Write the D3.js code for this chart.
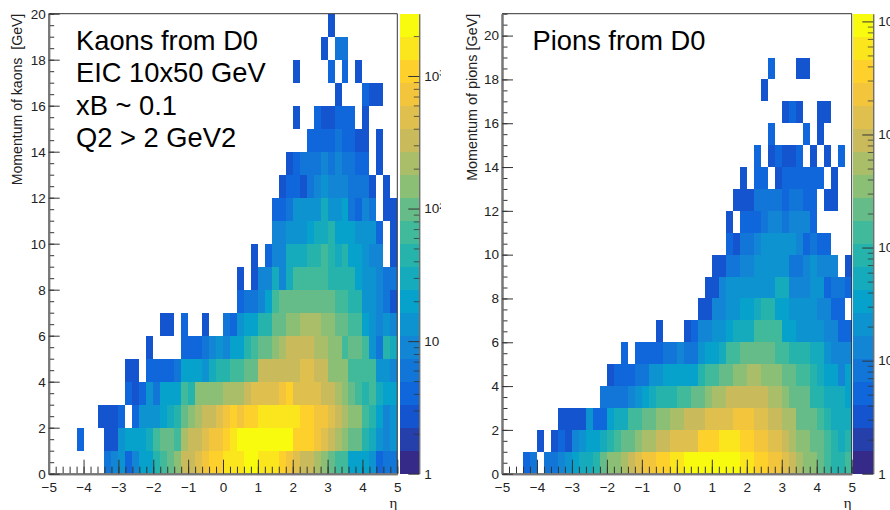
<!DOCTYPE html>
<html>
<head>
<meta charset="utf-8">
<script src="https://cdnjs.cloudflare.com/ajax/libs/d3/7.8.5/d3.min.js"></script>
<style>
  html, body { margin: 0; padding: 0; background: #fff; overflow: hidden; }
  text { font-family: "Liberation Sans", Arial, sans-serif; fill: #222; }
</style>
</head>
<body>
<div class="container"></div>
<script>
// counts per bin. one row = 1 GeV, one column = 0.2 in eta
var kaonCounts = [
  [0,0,0,0,0,0,0,0,6,9, 13,4,9,20,20,44,65,97,145,320, 320,470,700,1040,1040,1550,1550,1550,2300,2300, 1550,1550,1550,1040,700,470,320,320,215,145, 97,65,65,20,20,20,13,4,6,6],
  [0,0,0,0,4,0,0,0,3,3, 13,20,20,20,29,65,97,97,65,215, 320,320,470,700,700,1040,1550,2300,2300,2300, 2300,2300,2300,2300,2300,1040,1040,1040,700,470, 320,215,145,97,97,44,29,13,9,13],
  [0,0,0,0,0,0,0,3,3,3, 4,0,4,13,13,13,20,29,44,97, 145,215,320,320,470,700,1040,700,1040,1040, 1550,1550,1550,1550,1550,1550,1040,1040,700,700, 470,320,215,145,145,65,44,20,9,13],
  [0,0,0,0,0,0,0,0,0,0, 0,4,3,4,13,6,20,20,20,65, 44,145,145,145,145,215,215,215,320,470, 470,470,470,700,1040,470,470,470,470,320, 320,215,145,97,65,44,65,29,20,20],
  [0,0,0,0,0,0,0,0,0,0, 0,3,3,0,4,4,4,4,6,20, 20,20,13,29,44,44,65,65,97,97, 320,320,320,320,320,320,470,470,320,320, 145,145,145,65,65,65,65,13,13,9],
  [0,0,0,0,0,0,0,0,0,0, 0,0,0,0,3,0,0,0,0,4, 4,4,6,9,13,9,20,20,44,65, 97,97,145,215,320,320,320,320,215,215, 145,145,65,97,97,65,13,6,44,29],
  [0,0,0,0,0,0,0,0,0,0, 0,0,0,0,0,0,3,3,0,4, 0,0,3,0,0,6,4,13,20,20, 44,44,97,97,145,145,215,215,215,145, 145,97,97,65,65,20,13,9,13,9],
  [0,0,0,0,0,0,0,0,0,0, 0,0,0,0,0,0,0,0,0,0, 0,0,0,0,0,0,0,4,6,6, 9,20,65,97,97,97,97,97,97,97, 97,65,65,44,44,13,13,9,6,3],
  [0,0,0,0,0,0,0,0,0,0, 0,0,0,0,0,0,0,0,0,0, 0,0,0,0,0,0,0,3,0,3, 9,9,29,9,29,65,65,65,65,65, 54,54,54,44,20,13,13,9,6,6],
  [0,0,0,0,0,0,0,0,0,0, 0,0,0,0,0,0,0,0,0,0, 0,0,0,0,0,0,0,0,0,3, 0,4,9,9,29,29,29,44,44,65, 44,29,44,20,20,13,9,9,0,3],
  [0,0,0,0,0,0,0,0,0,0, 0,0,0,0,0,0,0,0,0,0, 0,0,0,0,0,0,0,0,0,0, 0,0,9,9,13,13,13,20,29,29, 44,20,20,20,13,13,13,4,0,3],
  [0,0,0,0,0,0,0,0,0,0, 0,0,0,0,0,0,0,0,0,0, 0,0,0,0,0,0,0,0,0,0, 0,0,4,4,6,13,13,13,13,29, 13,13,20,6,4,9,6,0,3,3],
  [0,0,0,0,0,0,0,0,0,0, 0,0,0,0,0,0,0,0,0,0, 0,0,0,0,0,0,0,0,0,0, 0,0,0,3,4,4,3,6,9,13, 9,9,9,6,6,6,3,0,3,0],
  [0,0,0,0,0,0,0,0,0,0, 0,0,0,0,0,0,0,0,0,0, 0,0,0,0,0,0,0,0,0,0, 0,0,0,0,3,4,6,6,6,9, 6,9,6,6,4,4,0,3,0,0],
  [0,0,0,0,0,0,0,0,0,0, 0,0,0,0,0,0,0,0,0,0, 0,0,0,0,0,0,0,0,0,0, 0,0,0,0,0,0,0,4,4,4, 4,6,4,4,3,3,0,3,0,0],
  [0,0,0,0,0,0,0,0,0,0, 0,0,0,0,0,0,0,0,0,0, 0,0,0,0,0,0,0,0,0,0, 0,0,0,0,0,3,0,0,4,3, 3,4,4,4,0,3,0,0,0,0],
  [0,0,0,0,0,0,0,0,0,0, 0,0,0,0,0,0,0,0,0,0, 0,0,0,0,0,0,0,0,0,0, 0,0,0,0,0,0,0,0,0,0, 0,3,0,0,0,4,3,3,0,0],
  [0,0,0,0,0,0,0,0,0,0, 0,0,0,0,0,0,0,0,0,0, 0,0,0,0,0,0,0,0,0,0, 0,0,0,0,0,3,0,0,0,0, 4,0,4,0,3,0,0,0,0,0],
  [0,0,0,0,0,0,0,0,0,0, 0,0,0,0,0,0,0,0,0,0, 0,0,0,0,0,0,0,0,0,0, 0,0,0,0,0,0,0,0,0,3, 0,6,6,0,0,0,0,0,0,0],
  [0,0,0,0,0,0,0,0,0,0, 0,0,0,0,0,0,0,0,0,0, 0,0,0,0,0,0,0,0,0,0, 0,0,0,0,0,0,0,0,0,0, 3,0,0,0,0,0,0,0,0,0]
];

var pionCounts = [
  [0,0,0,5,8,0,8,8,13,20, 32,52,52,83,210,330,330,530,830,1300, 2100,2100,3300,3300,5300,5300,8300,8300,8300,8300, 8300,8300,8300,8300,5300,5300,3300,3300,2100,2100, 1300,830,530,330,330,210,130,83,83,130],
  [0,0,0,0,0,3,0,3,5,3, 13,20,32,32,52,83,130,210,210,330, 530,530,830,830,1300,1300,1300,1300,3300,3300, 3300,5300,5300,5300,3300,3300,2100,2100,1300,1300, 830,530,330,330,210,210,130,83,52,83],
  [0,0,0,0,0,0,0,0,3,3, 3,3,20,5,5,32,52,52,130,130, 210,210,330,330,530,530,830,830,830,1300, 1300,1300,1300,2100,2100,2100,1300,1300,830,830, 530,530,210,210,210,130,83,52,52,52],
  [0,0,0,0,0,0,0,0,0,0, 0,0,0,0,8,8,8,8,13,20, 32,52,83,83,83,130,130,210,210,330, 530,530,830,830,830,830,830,830,530,530, 330,210,210,210,83,83,52,52,52,32],
  [0,0,0,0,0,0,0,0,0,0, 0,0,0,0,0,3,5,5,5,8, 8,20,20,32,32,32,32,32,83,130, 130,210,210,330,330,530,530,330,330,330, 210,210,130,130,83,52,32,32,13,32],
  [0,0,0,0,0,0,0,0,0,0, 0,0,0,0,0,0,0,5,0,5, 5,5,5,8,8,13,8,8,20,32, 32,52,130,130,210,210,210,210,210,130, 130,83,83,83,52,52,20,13,13,13],
  [0,0,0,0,0,0,0,0,0,0, 0,0,0,0,0,0,0,0,0,0, 0,0,3,0,0,0,3,5,13,13, 20,20,32,52,52,52,130,130,130,130, 32,32,20,20,20,20,13,13,5,5],
  [0,0,0,0,0,0,0,0,0,0, 0,0,0,0,0,0,0,0,0,0, 0,0,0,0,0,0,0,0,3,3, 13,13,20,20,32,32,52,83,83,32, 32,20,20,20,20,13,13,5,5,0],
  [0,0,0,0,0,0,0,0,0,0, 0,0,0,0,0,0,0,0,0,0, 0,0,0,0,0,0,0,0,0,3, 3,13,20,20,20,20,20,20,20,52, 52,13,13,13,20,20,5,8,8,5],
  [0,0,0,0,0,0,0,0,0,0, 0,0,0,0,0,0,0,0,0,0, 0,0,0,0,0,0,0,0,0,0, 3,3,8,8,13,13,20,20,20,20, 20,8,8,13,20,13,13,13,0,3],
  [0,0,0,0,0,0,0,0,0,0, 0,0,0,0,0,0,0,0,0,0, 0,0,0,0,0,0,0,0,0,0, 0,0,5,3,8,8,13,20,20,20, 20,20,13,5,8,5,5,0,0,0],
  [0,0,0,0,0,0,0,0,0,0, 0,0,0,0,0,0,0,0,0,0, 0,0,0,0,0,0,0,0,0,0, 0,0,3,0,5,5,5,8,13,13, 8,13,13,13,5,0,0,0,0,0],
  [0,0,0,0,0,0,0,0,0,0, 0,0,0,0,0,0,0,0,0,0, 0,0,0,0,0,0,0,0,0,0, 0,0,0,3,3,3,8,8,8,8, 5,8,8,5,5,0,3,3,0,0],
  [0,0,0,0,0,0,0,0,0,0, 0,0,0,0,0,0,0,0,0,0, 0,0,0,0,0,0,0,0,0,0, 0,0,0,0,3,0,5,5,0,3, 5,5,5,5,5,5,0,3,0,0],
  [0,0,0,0,0,0,0,0,0,0, 0,0,0,0,0,0,0,0,0,0, 0,0,0,0,0,0,0,0,0,0, 0,0,0,0,0,0,5,0,3,5, 3,3,5,0,3,0,3,0,5,0],
  [0,0,0,0,0,0,0,0,0,0, 0,0,0,0,0,0,0,0,0,0, 0,0,0,0,0,0,0,0,0,0, 0,0,0,0,0,0,0,0,5,0, 0,0,0,5,0,3,0,0,0,0],
  [0,0,0,0,0,0,0,0,0,0, 0,0,0,0,0,0,0,0,0,0, 0,0,0,0,0,0,0,0,0,0, 0,0,0,0,0,0,0,0,0,0, 3,5,3,0,0,3,3,0,0,0],
  [0,0,0,0,0,0,0,0,0,0, 0,0,0,0,0,0,0,0,0,0, 0,0,0,0,0,0,0,0,0,0, 0,0,0,0,0,0,0,3,0,0, 0,0,0,0,0,0,0,0,0,0],
  [0,0,0,0,0,0,0,0,0,0, 0,0,0,0,0,0,0,0,0,0, 0,0,0,0,0,0,0,0,0,0, 0,0,0,0,0,0,0,0,5,0, 0,0,3,3,0,0,0,0,0,0]
];

var etaTicks = [-5, -4, -3, -2, -1, 0, 1, 2, 3, 4, 5];
var momentumTicks = [0, 2, 4, 6, 8, 10, 12, 14, 16, 18, 20];
var kaonNotes = ["Kaons from D0", "EIC 10x50 GeV", "xB ~ 0.1", "Q2 > 2 GeV2"];
var pionNotes = ["Pions from D0"];
// ROOT kBird stops
var birdStops = ["#352a87", "#0f5cdd", "#1481d6", "#06a4ca", "#2eb7a4", "#87bf77", "#d1bb59", "#fec832", "#f9fb0e"];

var nLevels = 20;
var bird = d3.piecewise(d3.interpolateRgb, birdStops);
var plotTop = 13.7, plotBottom = 473.7;

var svg = d3.select(".container").append("svg")
  .attr("width", 890).attr("height", 510)
  .style("display", "block");

// the left picture is cut off where the right one starts
svg.append("clipPath").attr("id", "leftClip")
  .append("rect").attr("x", 0).attr("y", 0).attr("width", 441).attr("height", 510);

var styleAxis = function(a) {
  a.select(".domain").attr("stroke", "#777").attr("stroke-width", 2);
  a.selectAll("line").attr("stroke", "#333");
  a.selectAll("text").attr("fill", "#222");
};

var drawPanel = function(p) {
  var g = svg.append("g").attr("clip-path", p.clip ? "url(#" + p.clip + ")" : null);

  var x = d3.scaleLinear().domain([-5, 5]).range([p.left, p.right]);
  var y = d3.scaleLinear().domain([0, p.yMax]).range([plotBottom, plotTop]);
  var z = d3.scaleLog().domain([1, p.zMax]).range([plotBottom, plotTop]);
  var level = d3.scaleLog().domain([1, p.zMax]).range([0, nLevels]);

  var colorOf = function(v) {
    var k = Math.min(nLevels - 1, Math.floor(level(v)));
    return bird(k / (nLevels - 1));
  };

  // cells
  p.counts.forEach(function(row, j) {
    var cells = row
      .map(function(v, i) { return {i: i, v: v}; })
      .filter(function(d) { return d.v > 0; });
    g.append("g").attr("shape-rendering", "crispEdges").selectAll("rect")
      .data(cells)
      .enter()
      .append("rect")
      .attr("x", function(d) { return x(-5 + 0.2 * d.i); })
      .attr("width", function(d) { return x(-5 + 0.2 * (d.i + 1)) - x(-5 + 0.2 * d.i); })
      .attr("y", y(j + 1))
      .attr("height", y(j) - y(j + 1))
      .attr("fill", function(d) { return colorOf(d.v); });
  });

  // colour bar
  var edges = d3.range(nLevels + 1).map(function(k) { return Math.pow(p.zMax, k / nLevels); });
  g.append("g").attr("shape-rendering", "crispEdges").selectAll("rect")
    .data(d3.range(nLevels))
    .enter()
    .append("rect")
    .attr("x", p.barLeft)
    .attr("width", p.barRight - p.barLeft)
    .attr("y", function(k) { return z(edges[k + 1]); })
    .attr("height", function(k) { return z(edges[k]) - z(edges[k + 1]); })
    .attr("fill", function(k) { return bird(k / (nLevels - 1)); });

  // frame
  g.append("path")
    .attr("d", "M" + x(-5) + "," + plotTop + "H" + x(5) + "V" + plotBottom)
    .attr("fill", "none").attr("stroke", "#333").attr("stroke-width", 1);

  // eta axis
  var etaMinor = d3.range(51).map(function(i) { return -5 + i * 0.2; });
  g.append("g").attr("transform", "translate(0," + plotBottom + ")")
    .call(d3.axisBottom(x).tickValues(etaMinor).tickSizeInner(-7).tickSizeOuter(0).tickFormat(""))
    .call(styleAxis);
  g.append("g").attr("transform", "translate(0," + plotBottom + ")")
    .call(d3.axisBottom(x).tickValues(etaTicks).tickSizeInner(-14).tickSizeOuter(0).tickFormat(d3.format("d")))
    .call(styleAxis)
    .call(function(a) { a.selectAll("text").attr("y", 9).attr("dy", "0.71em").style("font-size", "13.5px"); });

  // momentum axis
  var momentumMinor = d3.range(2 * p.yMax + 1).map(function(i) { return i * 0.5; });
  g.append("g").attr("transform", "translate(" + p.left + ",0)")
    .call(d3.axisLeft(y).tickValues(momentumMinor).tickSizeInner(-5.5).tickSizeOuter(0).tickFormat(""))
    .call(styleAxis);
  g.append("g").attr("transform", "translate(" + p.left + ",0)")
    .call(d3.axisLeft(y).tickValues(momentumTicks).tickSizeInner(-11).tickSizeOuter(0).tickFormat(d3.format("d")))
    .call(styleAxis)
    .call(function(a) { a.selectAll("text").attr("x", -3).style("font-size", "13.5px"); });

  // colour bar axis
  var decades = d3.range(0, Math.floor(Math.log10(p.zMax)) + 1).map(function(e) { return Math.pow(10, e); });
  var logMinor = [];
  decades.forEach(function(dec) {
    d3.range(2, 10).forEach(function(m) { if (dec * m <= p.zMax) logMinor.push(dec * m); });
  });
  g.append("g").attr("transform", "translate(" + p.barRight + ",0)")
    .call(d3.axisRight(z).tickValues(logMinor).tickSizeInner(-5.5).tickSizeOuter(0).tickFormat(""))
    .call(function(a) {
      a.select(".domain").attr("stroke", "#333").attr("stroke-width", 1);
      a.selectAll("line").attr("stroke", "#333").attr("stroke-opacity", 0.75);
    });
  g.append("g").attr("transform", "translate(" + p.barRight + ",0)")
    .call(d3.axisRight(z).tickValues(decades).tickSizeInner(-11).tickSizeOuter(0).tickFormat(""))
    .call(function(a) {
      a.select(".domain").remove();
      a.selectAll("line").attr("stroke", "#333");
    });
  decades.forEach(function(dec, e) {
    var t = g.append("text")
      .attr("x", p.barRight + 5)
      .attr("y", z(dec))
      .attr("dy", "0.36em")
      .style("font-size", "13.5px")
      .text(e === 0 ? "1" : "10");
    if (e > 1) {
      t.append("tspan").attr("dy", "-0.5em").style("font-size", "9px").text(e);
    }
  });

  // titles
  g.append("text")
    .attr("transform", "translate(" + p.yLabelX + "," + plotTop + ") rotate(-90)")
    .attr("text-anchor", "end")
    .style("font-size", p.yLabelSize + "px")
    .text(p.yLabel);
  g.append("text")
    .attr("x", x(5))
    .attr("y", 508)
    .attr("text-anchor", "end")
    .style("font-family", '"Liberation Serif", serif')
    .style("font-size", "15px")
    .text("\u03b7");

  // slide text on top
  g.selectAll(".note")
    .data(p.notes)
    .enter()
    .append("text")
    .attr("class", "note")
    .attr("x", p.noteX)
    .attr("y", function(d, i) { return p.noteY[i]; })
    .style("font-size", "27.3px")
    .style("fill", "#000")
    .text(function(d) { return d; });
};

drawPanel({
  counts: kaonCounts, notes: kaonNotes, noteX: 76, noteY: [50, 81.7, 115, 146.7],
  left: 48.7, right: 397.3, yMax: 20, zMax: 2950,
  barLeft: 399.7, barRight: 419.3, clip: "leftClip",
  yLabel: "Momentum of kaons\u00a0 [GeV]", yLabelX: 21.5, yLabelSize: 14.1
});
drawPanel({
  counts: pionCounts, notes: pionNotes, noteX: 532.5, noteY: [50],
  left: 502, right: 851.7, yMax: 21, zMax: 11700,
  barLeft: 853.3, barRight: 873.3, clip: null,
  yLabel: "Momentum of pions [GeV]", yLabelX: 477, yLabelSize: 14.4
});
</script>
</body>
</html>
